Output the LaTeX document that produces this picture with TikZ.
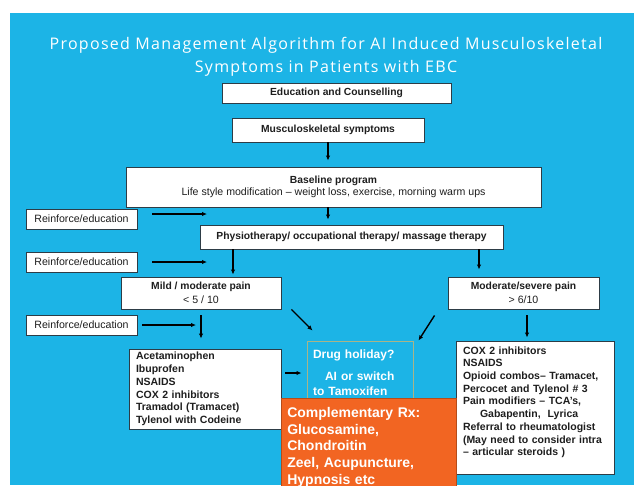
\documentclass[tikz,border=0pt]{standalone}
\usepackage{fontspec}
\setmainfont{Liberation Sans}
\newfontfamily\titlefont[LetterSpace=8]{Open Sans}
\usetikzlibrary{arrows.meta}
\definecolor{slideblue}{RGB}{28,180,230}
\definecolor{rxorange}{RGB}{242,101,34}
\definecolor{boxline}{RGB}{45,60,70}
\definecolor{holidayline}{RGB}{170,180,135}
\definecolor{boxtext}{RGB}{30,30,30}

\tikzset{
  stepbox/.style={draw=boxline, line width=0.9pt, fill=white, text=boxtext,
    inner sep=0pt, align=center, font=\fontsize{10.6}{12}\selectfont},
  hdr/.style={font=\bfseries\fontsize{10.3}{12}\selectfont},
  listbox/.style={draw=boxline, line width=0.9pt, fill=white, text=boxtext,
    align=left, inner xsep=7pt, font=\bfseries\fontsize{10.5}{12.7}\selectfont},
  arr/.style={line width=1.4pt, -{Latex[length=5pt,width=4.5pt]}},
}

\begin{document}
\begin{tikzpicture}[x=1pt,y=-1pt]
    \useasboundingbox (0,0) rectangle (634,485);
    \clip (0,0) rectangle (634,485);
    \fill[slideblue] (10,13) rectangle (634,485);

    % Title
    \node[text=white, font=\titlefont\fontsize{16}{23}\selectfont, align=center] (title) at (326,57)
        {Proposed Management Algorithm for AI Induced Musculoskeletal\\Symptoms in Patients with EBC};

    % Main steps
    \node[stepbox, hdr, minimum width=229pt, minimum height=20pt] (edu) at (336.5,93) {Education and Counselling};
    \node[stepbox, hdr, minimum width=192pt, minimum height=24pt] (msk) at (328,130) {Musculoskeletal symptoms};
    \node[stepbox, minimum width=415pt, minimum height=40pt] (base) at (333.5,187)
        {{\bfseries\fontsize{10.3}{12}\selectfont Baseline program}\\Life style modification -- weight loss, exercise, morning warm ups};
    \node[stepbox, hdr, minimum width=303pt, minimum height=24pt] (physio) at (351.5,237)
        {Physiotherapy/ occupational therapy/ massage therapy};

    % Reinforce boxes
    \node[stepbox, minimum width=111pt, minimum height=20pt] (reinf1) at (81.5,219) {Reinforce/education};
    \node[stepbox, minimum width=111pt, minimum height=20pt] (reinf2) at (81.5,262) {Reinforce/education};
    \node[stepbox, minimum width=111pt, minimum height=20pt] (reinf3) at (81.5,325) {Reinforce/education};

    % Pain levels
    \node[stepbox, font=\fontsize{10.6}{14}\selectfont, minimum width=160pt, minimum height=32pt] (mild) at (201,293)
        {{\bfseries\fontsize{10.3}{14}\selectfont Mild / moderate pain}\\< 5 / 10};
    \node[stepbox, font=\fontsize{10.6}{14}\selectfont, minimum width=151pt, minimum height=32pt] (severe) at (523.5,293)
        {{\bfseries\fontsize{10.3}{14}\selectfont Moderate/severe pain}\\> 6/10};

    % Treatment lists
    \node[listbox, text width=138pt, minimum height=80pt] (milddrugs) at (205,389)
        {Acetaminophen\\Ibuprofen\\NSAIDS\\COX 2 inhibitors\\Tramadol (Tramacet)\\Tylenol with Codeine};
    \node[listbox, text width=144pt, minimum height=133pt] (severedrugs) at (535,407.5)
        {COX 2 inhibitors\\NSAIDS\\Opioid combos-- Tramacet,\\Percocet and Tylenol \# 3\\Pain modifiers -- TCA's,\\
         \hspace*{17pt}Gabapentin,\ \ Lyrica\\Referral to rheumatologist\\(May need to consider intra\\-- articular steroids )\\ \mbox{}};

    % Drug holiday and complementary Rx
    \node[draw=holidayline, line width=1pt, fill=slideblue, text=white, align=left,
          font=\bfseries\fontsize{12}{15}\selectfont, text width=94pt, inner xsep=6pt, minimum height=64pt] (drug) at (360,373)
        {Drug holiday?\\[7pt]\hspace*{12pt}AI or switch\\to Tamoxifen};
    \node[draw=rxorange!75!black, line width=0.6pt, fill=rxorange, text=white, align=left, anchor=north west,
          font=\bfseries\fontsize{14}{16.7}\selectfont, text width=163pt, inner xsep=6pt, inner ysep=9pt] (comp) at (281,398)
        {Complementary Rx:\\Glucosamine,\\Chondroitin\\Zeel, Acupuncture,\\Hypnosis etc};

    % Reinforce arrows
    \coordinate (c1) at (207,214);
    \coordinate (c2) at (207,262);
    \coordinate (c3) at (196,325);
    \draw[arr, shorten <=15pt] (reinf1.east |- c1) -- (c1);
    \draw[arr, shorten <=15pt] (reinf2.east) -- (c2);
    \draw[arr, shorten <=5pt] (reinf3.east) -- (c3);

    % Flow arrows
    \coordinate (lx) at (233,0);
    \coordinate (rx) at (479,0);
    \coordinate (sx) at (527,0);
    \draw[arr, shorten >=6pt] (msk.south) -- (msk.south |- base.north);
    \draw[arr, shorten >=5pt] (msk.south |- base.south) -- (msk.south |- physio.north);
    \draw[arr, shorten >=2pt] (physio.south -| lx) -- (mild.north -| lx);
    \draw[arr, shorten >=7pt] (physio.south -| rx) -- (severe.north -| rx);
    \draw[arr, shorten <=6pt, shorten >=10pt] (mild.south) -- (mild.south |- milddrugs.north);
    \draw[arr, shorten <=6pt, shorten >=3pt] (severe.south -| sx) -- (severedrugs.north -| sx);
    \draw[arr] ([xshift=10pt]mild.south east) -- ([xshift=6pt,yshift=10pt]drug.north west);
    \draw[arr] ([xshift=-13pt,yshift=-6pt]severe.south west) -- ([xshift=5pt]drug.north east);
    \draw[arr, shorten <=4pt, shorten >=5pt] (milddrugs.east |- drug.west) -- (drug.west);
\end{tikzpicture}
\end{document}
